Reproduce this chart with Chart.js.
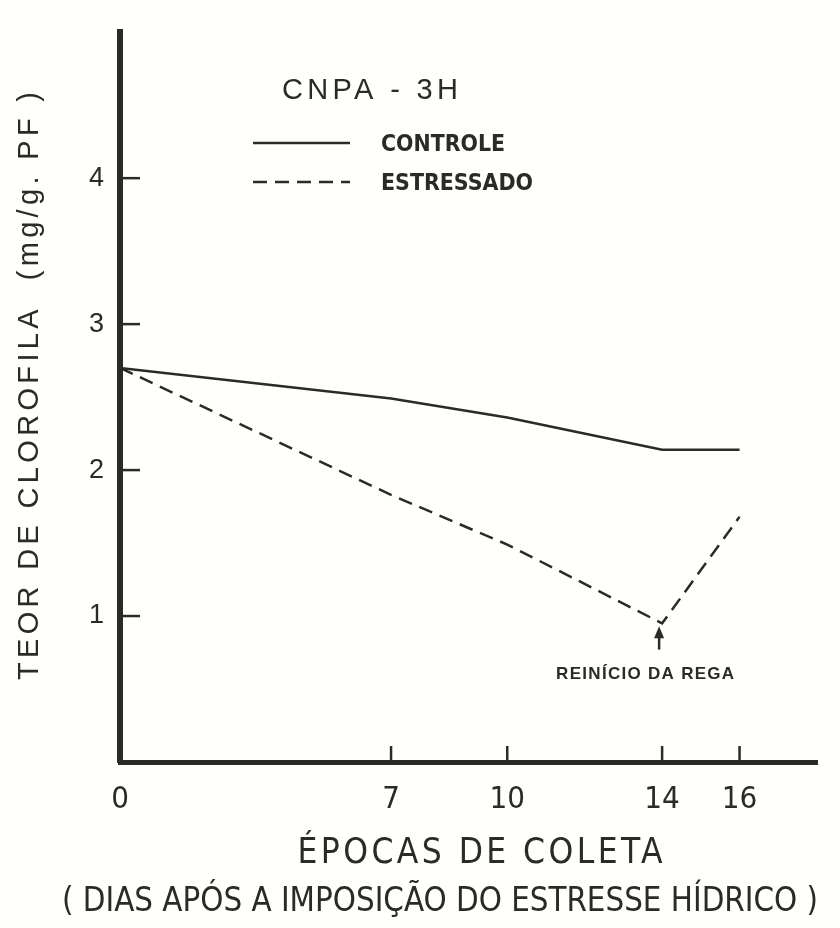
<!DOCTYPE html>
<html><head><meta charset="utf-8">
<script src="https://cdn.jsdelivr.net/npm/chart.js@4.4.1/dist/chart.umd.min.js"></script>
<style>html,body{margin:0;padding:0;background:#fff}#wrap{width:840px;height:928px}</style>
</head><body><div id="wrap"><canvas id="c" width="840" height="928"></canvas></div>
<script>
// ---- data ----
const days = [0, 7, 10, 14, 16];
const controle = [2.70, 2.49, 2.36, 2.14, 2.14];
const estressado = [2.70, 1.83, 1.49, 0.95, 1.68];
const xTicks = [0, 7, 10, 14, 16];
const yTicks = [1, 2, 3, 4];
const seriesLabels = ['CONTROLE', 'ESTRESSADO'];
const chartTitle = 'CNPA - 3H';
const yTitle = 'TEOR DE CLOROFILA  (mg/g. PF )';
const xTitle = ['ÉPOCAS DE COLETA', '( DIAS APÓS A IMPOSIÇÃO DO ESTRESSE HÍDRICO )'];
const note = 'REINÍCIO DA REGA';
const noteDay = 14;

const INK = '#2a2a28';
const NARROW = "'Liberation Sans Narrow', 'DejaVu Sans Condensed', 'Roboto Condensed', 'Liberation Sans', sans-serif";
const SANS = "'Liberation Sans', 'DejaVu Sans', sans-serif";
const DASH = [14, 8];

function drawFit(ctx, text, cx, cy, width, font, rotate) {
  ctx.save();
  ctx.font = font;
  ctx.fillStyle = INK;
  ctx.textBaseline = 'middle';
  ctx.textAlign = 'left';
  const n = Array.from(text).length;
  const nat = ctx.measureText(text).width;
  let sp = 0, sx = 1;
  if ('letterSpacing' in ctx && nat < width && n > 1) sp = (width - nat) / (n - 1);
  else sx = width / nat;
  if (sp) ctx.letterSpacing = sp + 'px';
  ctx.translate(cx, cy);
  if (rotate) ctx.rotate(rotate);
  ctx.scale(sx, 1);
  ctx.fillText(text, -width / 2 / sx, 0);
  ctx.restore();
}

const bgPlugin = {
  id: 'bg',
  beforeDraw(chart) {
    const ctx = chart.ctx;
    ctx.save();
    ctx.fillStyle = '#fffffd';
    ctx.fillRect(0, 0, chart.width, chart.height);
    ctx.restore();
  }
};

const decorPlugin = {
  id: 'decor',
  afterDraw(chart) {
    const ctx = chart.ctx;
    const xs = chart.scales.x, ys = chart.scales.y;
    const a = chart.chartArea;
    ctx.save();
    ctx.strokeStyle = INK;
    ctx.lineWidth = 2.5;
    // inward tick marks
    ys.ticks.forEach(t => {
      const y = ys.getPixelForValue(t.value);
      ctx.beginPath(); ctx.moveTo(a.left, y); ctx.lineTo(a.left + 20, y); ctx.stroke();
    });
    xs.ticks.forEach(t => {
      if (t.value === 0) return;
      const x = xs.getPixelForValue(t.value);
      ctx.beginPath(); ctx.moveTo(x, a.bottom); ctx.lineTo(x, a.bottom - 16); ctx.stroke();
    });
    // title
    drawFit(ctx, chartTitle, 370, 91, 176, "29px " + SANS);
    // legend
    const ds = chart.data.datasets;
    const legY = [143, 182];
    ds.forEach((d, i) => {
      ctx.save();
      ctx.strokeStyle = INK;
      ctx.lineWidth = d.borderWidth;
      ctx.setLineDash(d.borderDash || []);
      ctx.beginPath(); ctx.moveTo(253, legY[i]); ctx.lineTo(350, legY[i]); ctx.stroke();
      ctx.restore();
      const w = i === 0 ? 124 : 152;
      drawFit(ctx, d.label, 381 + w / 2, legY[i] + 2, w, "bold 23px " + NARROW);
    });
    // annotation arrow
    const ax = xs.getPixelForValue(noteDay) - 3;
    const yTop = ys.getPixelForValue(0.93), yBot = ys.getPixelForValue(0.77);
    ctx.lineWidth = 2.5;
    ctx.beginPath(); ctx.moveTo(ax, yBot); ctx.lineTo(ax, yTop + 6); ctx.stroke();
    ctx.fillStyle = INK;
    ctx.beginPath(); ctx.moveTo(ax, yTop); ctx.lineTo(ax - 5, yTop + 12); ctx.lineTo(ax + 5, yTop + 12); ctx.closePath(); ctx.fill();
    drawFit(ctx, note, ax - 14, ys.getPixelForValue(0.6), 178, "bold 17px " + SANS);
    // axis titles
    drawFit(ctx, yTitle, 30, 386, 588, "29px " + SANS, -Math.PI / 2);
    drawFit(ctx, xTitle[0], 480, 854, 365, "35px " + NARROW);
    drawFit(ctx, xTitle[1], 440, 902, 756, "34px " + NARROW);
    ctx.restore();
  }
};

new Chart(document.getElementById('c'), {
  type: 'line',
  data: {
    datasets: [
      { label: seriesLabels[0], data: days.map((d, i) => ({ x: d, y: controle[i] })),
        borderColor: INK, borderWidth: 2.5, pointRadius: 0, tension: 0, fill: false },
      { label: seriesLabels[1], data: days.map((d, i) => ({ x: d, y: estressado[i] })),
        borderColor: INK, borderWidth: 2.5, borderDash: DASH, pointRadius: 0, tension: 0, fill: false }
    ]
  },
  options: {
    responsive: false,
    animation: false,
    events: [],
    layout: { padding: { top: 17, right: 23, left: 0, bottom: 0 } },
    plugins: { legend: { display: false }, title: { display: false }, tooltip: { enabled: false } },
    scales: {
      x: {
        type: 'linear', min: 0, max: 18,
        afterBuildTicks: s => { s.ticks = xTicks.map(v => ({ value: v })); },
        afterFit: s => { s.height = 166; },
        grid: { display: false, drawTicks: false },
        border: { display: true, width: 5, color: INK },
        ticks: { color: INK, font: { family: NARROW, size: 31 }, padding: 19, autoSkip: false, maxRotation: 0,
                 callback: v => String(v) }
      },
      y: {
        type: 'linear', min: 0, max: 5,
        afterBuildTicks: s => { s.ticks = yTicks.map(v => ({ value: v })); },
        afterFit: s => { s.width = 120; },
        grid: { display: false, drawTicks: false },
        border: { display: true, width: 6, color: INK },
        ticks: { color: INK, font: { family: SANS, size: 27 }, padding: 16, callback: v => String(v) }
      }
    }
  },
  plugins: [bgPlugin, decorPlugin]
});
</script>
</body></html>
